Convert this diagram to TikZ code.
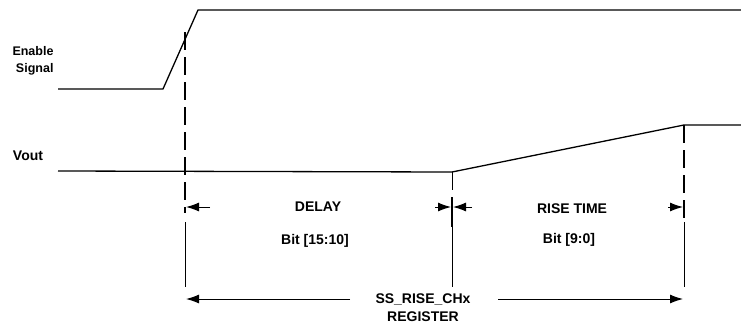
\documentclass[tikz,border=0pt]{standalone}
\usepackage{fontspec}
\setmainfont{Liberation Sans}
\usepackage{tikz}
\usetikzlibrary{arrows.meta}

\begin{document}
\begin{tikzpicture}[x=1pt,y=-1pt,>={Latex[length=13pt,width=9pt]}]
  \tikzstyle{sig}=[line width=1.3pt]
  \tikzstyle{markline}=[line width=2.8pt,dash pattern=on 18pt off 7pt]
  \tikzstyle{guide}=[line width=1pt]
  \tikzstyle{dimarrow}=[line width=1pt,->]
  \tikzstyle{lbl}=[font=\bfseries\fontsize{14}{18}\selectfont,inner sep=1pt]
  \tikzstyle{signame}=[font=\bfseries\fontsize{12.5}{17}\selectfont,align=right,inner sep=1pt]
  \useasboundingbox (0,0) rectangle (741,327);
  % signal names
  \node[signame] (en) at (33,61) {Enable\\Signal};
  \node[signame] (vo) at (28,156) {\fontsize{14}{16}\selectfont Vout};
  % enable signal
  \coordinate (E_1) at (58,89);
  \coordinate (E_2) at (163,89);
  \coordinate (E_3) at (198,10);
  \coordinate (E_4) at (741,10);
  \draw[sig] (E_1) -- (E_2) -- (E_3) -- (E_4);
  % output voltage
  \coordinate (V_1) at (58,171);
  \coordinate (V_2) at (452,172);
  \coordinate (V_3) at (684,125);
  \coordinate (V_4) at (741,125);
  \draw[sig] (V_1) -- (V_2) -- (V_3) -- (V_4);
  % time marks
  \coordinate (T_1) at (185,32);
  \coordinate (T_1b) at (185,213);
  \coordinate (T_3b) at (684,218);
  \draw[markline] (T_1) -- (T_1b);
  \draw[markline] (V_3) -- (T_3b);
  \draw[guide] (185,222) -- (185,287);
  \draw[guide] (V_2) -- (452,190);
  \draw[line width=2pt] (452,197) -- (452,227);
  \draw[guide] (452,227) -- (452,287);
  \draw[guide] (684,222) -- (684,287);
  % interval arrows
  \draw[dimarrow] (210,207) -- (186,207);
  \draw[dimarrow] (435,207) -- (451,207);
  \draw[dimarrow] (472,207) -- (453,207);
  \draw[dimarrow] (668,207) -- (683,207);
  % interval labels
  \node[lbl] (dl) at (318,207) {DELAY};
  \node[lbl] (db) at (315,241) {Bit [15:10]};
  \node[lbl] (rt) at (572,209) {RISE TIME};
  \node[lbl] (rb) at (569,240) {Bit [9:0]};
  % register
  \node[lbl,align=center] (reg) at (423,308) {SS\_RISE\_CHx\\REGISTER};
  \coordinate (R_l) at (186,299);
  \coordinate (R_r) at (683,299);
  \draw[dimarrow] (350,299) -- (R_l);
  \draw[dimarrow] (498,299) -- (R_r);
\end{tikzpicture}
\end{document}
